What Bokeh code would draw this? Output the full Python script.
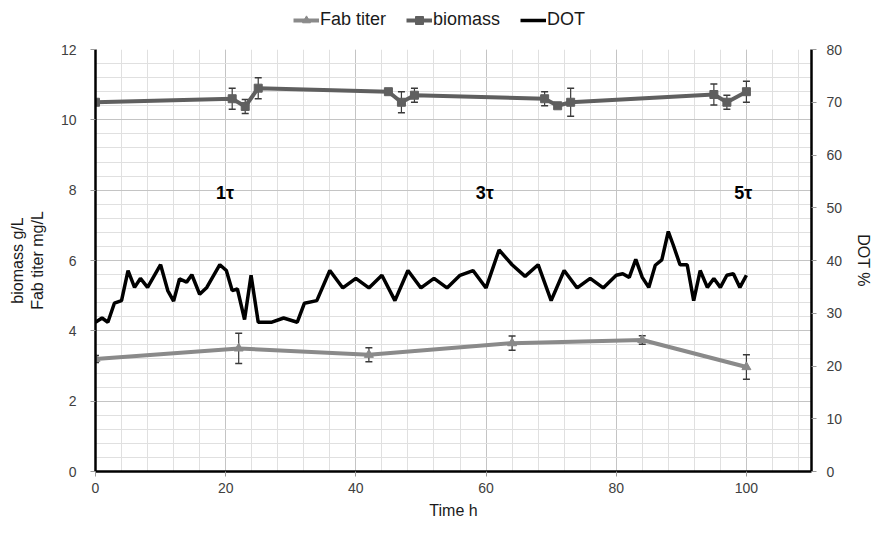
from bokeh.plotting import figure
from bokeh.layouts import column
from bokeh.models import (Range1d, LinearAxis, SingleIntervalTicker, Whisker,
                          ColumnDataSource, Legend, LegendItem, TeeHead)
from bokeh.core.properties import value
from bokeh.embed import file_html
from bokeh.resources import INLINE

# ---------------- data ----------------
fab_time = [0, 22, 42, 64, 84, 100]
fab_titer = [3.2, 3.5, 3.32, 3.65, 3.74, 2.97]
fab_err = [0.1, 0.43, 0.2, 0.2, 0.12, 0.35]

bio_time = [0, 21, 23, 25, 45, 47, 49, 69, 71, 73, 95, 97, 100]
biomass = [10.5, 10.6, 10.38, 10.9, 10.8, 10.5, 10.7, 10.6, 10.4, 10.5, 10.72, 10.5, 10.8]
bio_err = [0.0, 0.3, 0.2, 0.3, 0.0, 0.3, 0.2, 0.2, 0.0, 0.4, 0.3, 0.2, 0.3]

dot_time = [0, 1, 1.9, 2.9, 4, 5, 6, 6.9, 8, 10, 11.1, 12, 12.9, 14, 14.8, 16, 17.1,
            19.1, 20.1, 21, 21.8, 22.9, 23.9, 25, 27.1, 28.9, 31, 32.1, 34, 36, 38,
            40, 42, 44, 46, 48, 50, 52, 54, 56, 58, 60, 62, 64, 66, 68, 70, 72, 74,
            76, 78, 80, 81, 82, 83, 84, 85, 86, 87, 88, 88.8, 89.8, 90.9, 91.9, 92.9,
            94, 95, 96, 97, 98, 99, 100]
dot = [28.3, 29.1, 28.3, 31.9, 32.4, 38.1, 34.9, 36.6, 34.9, 39.2, 34.3, 32.3, 36.5,
       35.9, 37.3, 33.6, 34.9, 39.2, 38.1, 34.3, 34.6, 28.8, 37.2, 28.3, 28.3, 29.1,
       28.3, 31.9, 32.4, 38.1, 34.8, 36.6, 34.8, 37.2, 32.4, 38.1, 34.8, 36.6, 34.8,
       37.2, 38.1, 34.8, 42.0, 39.2, 37.0, 39.2, 32.4, 38.1, 34.8, 36.6, 34.8, 37.2,
       37.5, 36.8, 40.2, 36.8, 34.9, 39.1, 40.1, 45.5, 42.8, 39.2, 39.2, 32.4, 38.1,
       34.9, 36.6, 34.9, 37.2, 37.5, 34.9, 37.2]

tau_labels = ["1\u03c4", "3\u03c4", "5\u03c4"]
tau_x = [19.9, 59.8, 99.5]
tau_y = [7.93, 7.93, 7.93]

series_names = ["Fab titer", "biomass", "DOT"]

x_ticks_interval = 20
y_ticks_interval = 2
dot_ticks_interval = 10

# ---------------- figure ----------------
FONT = "Liberation Sans"
FAB_COLOR = "#8a8a8a"
BIO_COLOR = "#5f5f5f"

p = figure(width=875, height=494, output_backend="svg", toolbar_location=None,
           x_range=Range1d(0, 110), y_range=Range1d(0, 12),
           min_border_left=95, min_border_right=63, min_border_top=10,
           min_border_bottom=62)
p.outline_line_color = None
p.background_fill_color = "white"
p.border_fill_color = "white"
p.extra_y_ranges = {"dot": Range1d(0, 80)}

# grids
p.xaxis.ticker = SingleIntervalTicker(interval=x_ticks_interval, num_minor_ticks=5)
p.yaxis.ticker = SingleIntervalTicker(interval=y_ticks_interval, num_minor_ticks=5)
for g in (p.xgrid, p.ygrid):
    g.grid_line_color = "#c4c4c4"
    g.grid_line_width = 1
    g.minor_grid_line_color = "#e0e0e0"
    g.minor_grid_line_width = 1

# axes styles
for ax in (p.xaxis, p.yaxis):
    ax.axis_line_color = "black"
    ax.axis_line_width = 2.5
    ax.major_tick_line_color = "#9a9a9a"
    ax.major_tick_out = 5
    ax.major_tick_in = 0
    ax.minor_tick_line_color = None
    ax.major_label_text_font = FONT
    ax.major_label_text_font_size = "14px"
    ax.major_label_text_color = "#404040"
    ax.axis_label_text_font = FONT
    ax.axis_label_text_font_size = "16px"
    ax.axis_label_text_font_style = "normal"
    ax.axis_label_text_color = "#1a1a1a"

p.xaxis.axis_label = "Time h"
p.xaxis.major_label_standoff = 6
p.xaxis.axis_label_standoff = 6
p.yaxis.axis_label = "biomass g/L\nFab titer mg/L"
p.yaxis.major_label_standoff = 14
p.yaxis.axis_label_standoff = 12

rax = LinearAxis(y_range_name="dot", axis_label="DOT %",
                 ticker=SingleIntervalTicker(interval=dot_ticks_interval, num_minor_ticks=0))
rax.axis_line_color = "black"
rax.axis_line_width = 2.5
rax.major_tick_line_color = "#9a9a9a"
rax.major_tick_out = 5
rax.major_tick_in = 0
rax.minor_tick_line_color = None
rax.major_label_text_font = FONT
rax.major_label_text_font_size = "14px"
rax.major_label_text_color = "#404040"
rax.major_label_standoff = 10
rax.axis_label_text_font = FONT
rax.axis_label_text_font_size = "16px"
rax.axis_label_text_font_style = "normal"
rax.axis_label_text_color = "#1a1a1a"
rax.axis_label_standoff = 10
p.add_layout(rax, "right")

# ---------------- series ----------------
dot_src = ColumnDataSource(dict(x=dot_time, y=dot))
p.line("x", "y", source=dot_src, y_range_name="dot", color="black", line_width=3.5)

fab_src = ColumnDataSource(dict(x=fab_time, y=fab_titer,
                                lo=[v - e for v, e in zip(fab_titer, fab_err)],
                                hi=[v + e for v, e in zip(fab_titer, fab_err)]))
p.line("x", "y", source=fab_src, color=FAB_COLOR, line_width=4)
p.scatter("x", "y", source=fab_src, marker="triangle", size=9, color=FAB_COLOR)
p.add_layout(Whisker(source=fab_src, base="x", upper="hi", lower="lo",
                     line_color="#3a3a3a", line_width=1.2,
                     upper_head=TeeHead(size=7, line_color="#3a3a3a", line_width=1.5),
                     lower_head=TeeHead(size=7, line_color="#3a3a3a", line_width=1.5)))

bio_src = ColumnDataSource(dict(x=bio_time, y=biomass,
                                lo=[v - e for v, e in zip(biomass, bio_err)],
                                hi=[v + e for v, e in zip(biomass, bio_err)]))
p.line("x", "y", source=bio_src, color=BIO_COLOR, line_width=4)
p.scatter("x", "y", source=bio_src, marker="square", size=8, color=BIO_COLOR)
p.add_layout(Whisker(source=bio_src, base="x", upper="hi", lower="lo",
                     line_color="#3a3a3a", line_width=1.2,
                     upper_head=TeeHead(size=7, line_color="#3a3a3a", line_width=1.5),
                     lower_head=TeeHead(size=7, line_color="#3a3a3a", line_width=1.5)))

p.text(x=tau_x, y=tau_y, text=tau_labels, text_font=value(FONT),
       text_font_size="18px", text_font_style="bold", text_align="center",
       text_baseline="middle", text_color="black")

# ---------------- legend strip (top) ----------------
lg = figure(width=875, height=39, output_backend="svg", toolbar_location=None,
            x_range=Range1d(0, 717), y_range=Range1d(0, 39),
            x_axis_type=None, y_axis_type=None,
            min_border_left=95, min_border_right=63, min_border_top=0, min_border_bottom=0)
lg.outline_line_color = None
lg.grid.visible = False
lg.border_fill_color = "white"
off = [-1000]
lf_l = lg.line(x=off, y=off, color=FAB_COLOR, line_width=4)
lf_m = lg.scatter(x=off, y=off, marker="triangle", size=7, color=FAB_COLOR)
lb_l = lg.line(x=off, y=off, color=BIO_COLOR, line_width=4)
lb_m = lg.scatter(x=off, y=off, marker="square", size=6, color=BIO_COLOR)
ld_l = lg.line(x=off, y=off, color="black", line_width=3.5)

legend = Legend(items=[
    LegendItem(label=series_names[0], renderers=[lf_l, lf_m]),
    LegendItem(label=series_names[1], renderers=[lb_l, lb_m]),
    LegendItem(label=series_names[2], renderers=[ld_l]),
], orientation="horizontal", location=(198, 9))
legend.border_line_color = None
legend.background_fill_alpha = 0
legend.padding = 0
legend.margin = 0
legend.spacing = 20
legend.glyph_width = 26
legend.glyph_height = 20
legend.label_standoff = 1
legend.label_text_font = FONT
legend.label_text_font_size = "18px"
legend.label_text_color = "#1a1a1a"
lg.add_layout(legend, "center")

layout = column(lg, p, spacing=0)
open("out.html", "w").write(file_html(layout, INLINE))
